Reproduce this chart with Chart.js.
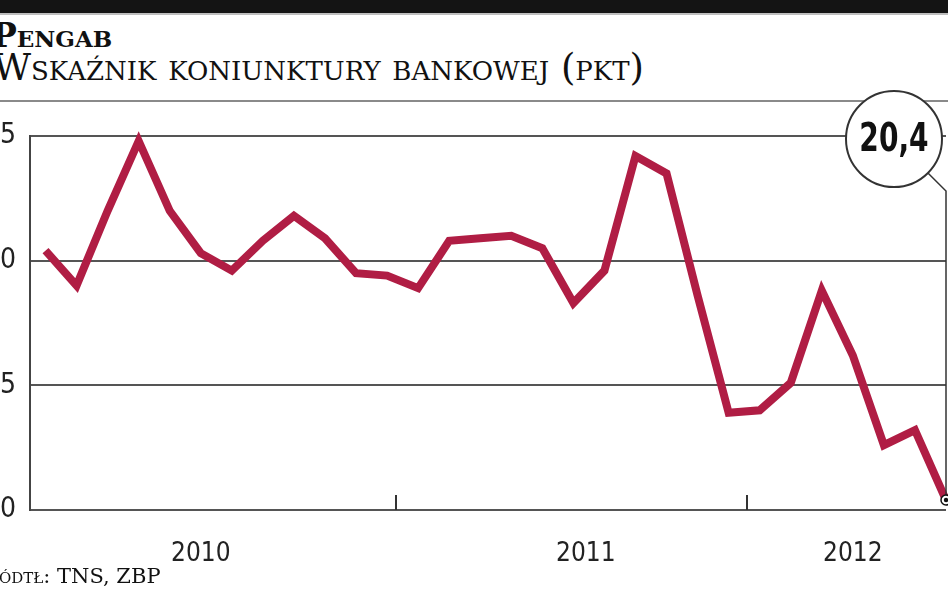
<!DOCTYPE html>
<html>
<head>
<meta charset="utf-8">
<script src="https://cdn.jsdelivr.net/npm/chart.js@4.4.1/dist/chart.umd.min.js"></script>
<style>
  html, body { margin: 0; padding: 0; background: #fff; }
  #page { position: relative; width: 948px; height: 593px; overflow: hidden; background: #fff; }
  #band { position: absolute; left: 0; top: 0; width: 948px; height: 13px; background: #141414; }
  #band2 { position: absolute; left: 0; top: 13px; width: 948px; height: 2px; background: #bdbdbd; }
  #sep { position: absolute; left: 0; top: 100px; width: 948px; height: 2px; background: #8a8a8a; }
  .serif { font-family: "DejaVu Serif", serif; font-variant: small-caps; color: #111; white-space: nowrap; position: absolute; }
  #title { left: -8px; top: 18px; font-size: 33px; font-weight: bold; line-height: 36px; }
  #subtitle { left: -7px; top: 47px; font-size: 37px; line-height: 42px; }
  #source { left: -27px; top: 563px; font-size: 21px; line-height: 26px; }
  #chart { position: absolute; left: -40px; top: 0; }
</style>
</head>
<body>
<div id="page">
  <div id="band"></div>
  <div id="band2"></div>
  <div class="serif" id="title">Pengab</div>
  <div class="serif" id="subtitle">Wskaźnik koniunktury bankowej (pkt)</div>
  <div id="sep"></div>
  <canvas id="chart" width="988" height="593"></canvas>
  <div class="serif" id="source">Źródtł: TNS, ZBP</div>
</div>
<script>
// monthly index values
const values = [30.4, 29.0, 32.0, 34.8, 32.0, 30.3, 29.6, 30.8, 31.8, 30.9,
                29.5, 29.4, 28.9, 30.8, 30.9, 31.0, 30.5, 28.3, 29.6, 34.2,
                33.5, 28.6, 23.9, 24.0, 25.1, 28.8, 26.2, 22.6, 23.2, 20.4];
const yearLabels = ["2010", "2011", "2012"];
const yearLabelPos = [5.0, 17.4, 26.0];   // where the year names sit (point index)
const yearBreaks = [11.3, 22.6];          // small ticks between years
const yTicks = [20, 25, 30, 35];
const lastLabel = "20,4";

const numFont = '"DejaVu Sans Condensed", "Liberation Sans Narrow", sans-serif';
const lineColor = "#b01d44";

const extras = {
  id: "extras",
  afterDraw(chart) {
    const ctx = chart.ctx;
    const x = chart.scales.x, y = chart.scales.y;
    const area = chart.chartArea;

    // year separators on the bottom axis
    ctx.save();
    ctx.strokeStyle = "#333";
    ctx.lineWidth = 2;
    yearBreaks.forEach(b => {
      const px = Math.round(x.getPixelForValue(b));
      ctx.beginPath();
      ctx.moveTo(px, area.bottom);
      ctx.lineTo(px, area.bottom - 15);
      ctx.stroke();
    });

    // callout for the last value
    const i = values.length - 1;
    const lx = x.getPixelForValue(i), ly = y.getPixelForValue(values[i]);
    const r = 48;
    const cx = lx - 52, cy = area.top + 3;
    const ex = cx + r * Math.SQRT1_2, ey = cy + r * Math.SQRT1_2;
    ctx.strokeStyle = "#333";
    ctx.lineWidth = 1.5;
    ctx.beginPath();
    ctx.moveTo(ex, ey);
    ctx.lineTo(lx, ey + (lx - ex));
    ctx.lineTo(lx, ly);
    ctx.stroke();

    ctx.beginPath();
    ctx.arc(cx, cy, r, 0, Math.PI * 2);
    ctx.fillStyle = "#fff";
    ctx.fill();
    ctx.lineWidth = 2;
    ctx.stroke();
    ctx.save();
    ctx.translate(cx, cy + 2);
    ctx.scale(0.8, 1);
    ctx.fillStyle = "#111";
    ctx.font = "bold 39px " + numFont;
    ctx.textAlign = "center";
    ctx.textBaseline = "middle";
    ctx.fillText(lastLabel, 0, 0);
    ctx.restore();

    // end marker
    ctx.beginPath();
    ctx.arc(lx, ly, 5, 0, Math.PI * 2);
    ctx.fillStyle = "#fff";
    ctx.fill();
    ctx.lineWidth = 1.5;
    ctx.strokeStyle = "#111";
    ctx.stroke();
    ctx.beginPath();
    ctx.arc(lx, ly, 2.2, 0, Math.PI * 2);
    ctx.fillStyle = "#111";
    ctx.fill();
    ctx.restore();
  }
};

new Chart(document.getElementById("chart"), {
  type: "line",
  data: {
    datasets: [{
      data: values.map((v, i) => ({ x: i, y: v })),
      borderColor: lineColor,
      borderWidth: 8,
      borderJoinStyle: "miter",
      borderCapStyle: "butt",
      tension: 0,
      pointRadius: 0,
      clip: false
    }]
  },
  options: {
    responsive: false,
    animation: false,
    layout: { padding: { top: 136, right: 2, left: 0, bottom: 0 } },
    plugins: { legend: { display: false }, tooltip: { enabled: false } },
    scales: {
      x: {
        type: "linear",
        min: -0.5,
        max: values.length - 1,
        afterFit: s => { s.height = 83; },
        afterBuildTicks: s => { s.ticks = yearLabelPos.map(v => ({ value: v })); },
        grid: { display: false },
        border: { display: false },
        ticks: {
          autoSkip: false,
          maxRotation: 0,
          padding: 21,
          color: "#222",
          font: { family: numFont, size: 26 },
          callback: (v, i) => yearLabels[i]
        }
      },
      y: {
        min: 20,
        max: 35,
        afterFit: s => { s.width = 70; },
        afterBuildTicks: s => { s.ticks = yTicks.map(v => ({ value: v })); },
        grid: { color: "#555", lineWidth: 2, drawTicks: false },
        border: { display: true, color: "#444", width: 2 },
        ticks: {
          padding: 14,
          color: "#222",
          font: { family: numFont, size: 28 }
        }
      }
    }
  },
  plugins: [extras]
});
</script>
</body>
</html>
